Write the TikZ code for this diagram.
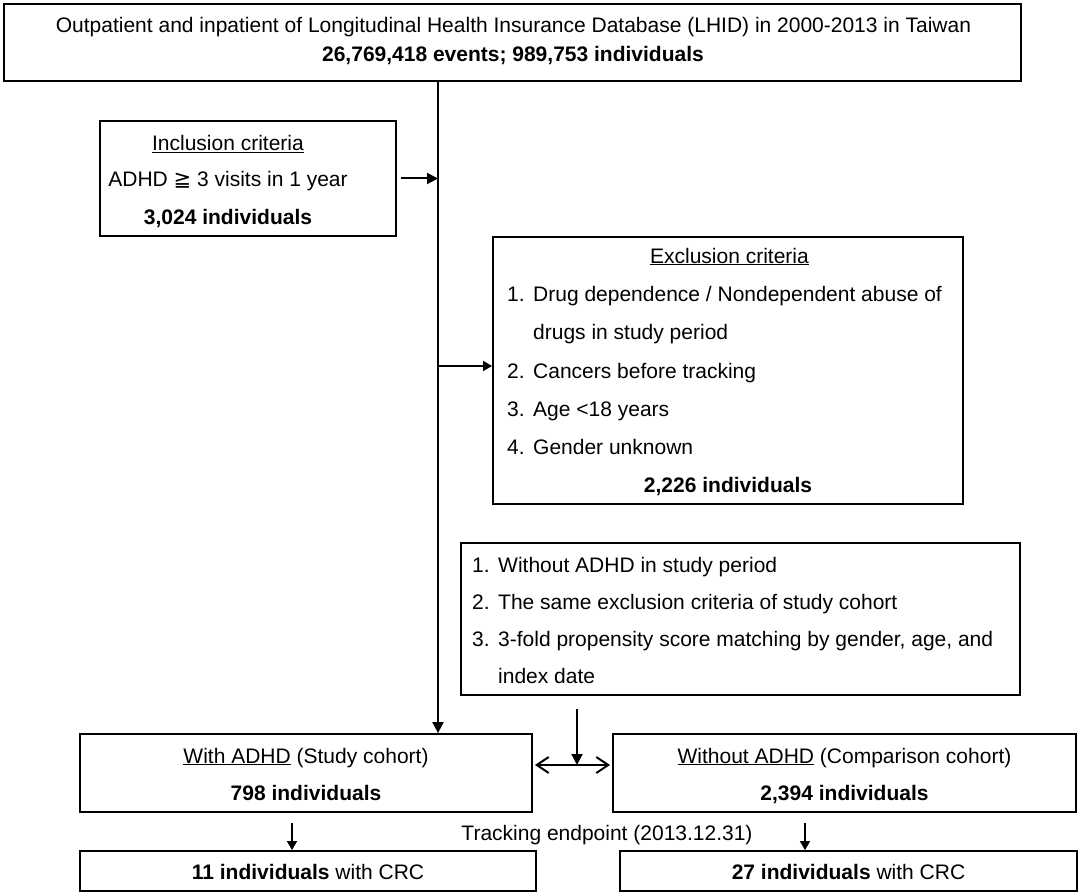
\documentclass[tikz,border=0pt]{standalone}
\usepackage{fontspec}
\setmainfont{Liberation Sans}
\newfontfamily\djv{DejaVu Sans}
\usetikzlibrary{arrows.meta}
\begin{document}
\begin{tikzpicture}[x=1pt,y=-1pt,
  box/.style={draw, line width=1.8pt, inner sep=0pt},
  txt/.style={inner sep=0pt, anchor=base, font=\fontsize{21}{25}\selectfont},
  txtl/.style={inner sep=0pt, anchor=base west, font=\fontsize{21}{25}\selectfont},
  bold/.style={font=\fontsize{21}{25}\selectfont\bfseries},
  arr/.style={line width=2pt, -{Triangle[length=11pt,width=11pt]}},
  arrthin/.style={line width=1.3pt, -{Triangle[length=9pt,width=10pt]}},
  dbl/.style={line width=2pt, {Straight Barb[length=12pt,width=16pt,line width=2pt]}-{Straight Barb[length=12pt,width=16pt,line width=2pt]}}
]
\useasboundingbox (0,0) rectangle (1084,896);
\fill[white] (0,0) rectangle (1084,896);

% boxes
\node[box, minimum width=1017, minimum height=77] (top) at (512.5,42.5) {};
\node[box, minimum width=296, minimum height=115] (incl) at (248,178.5) {};
\node[box, minimum width=470, minimum height=267] (excl) at (728,370.5) {};
\node[box, minimum width=559, minimum height=152] (match) at (740.5,619) {};
\node[box, minimum width=452, minimum height=78] (with) at (306,773) {};
\node[box, minimum width=463, minimum height=78] (without) at (844.5,773) {};
\node[box, minimum width=456, minimum height=40] (crc1) at (308,871) {};
\node[box, minimum width=457, minimum height=40] (crc2) at (848.5,871) {};

% texts
\node[txt] (ttitle) at (513.5,33) {Outpatient and inpatient of Longitudinal Health Insurance Database (LHID) in 2000-2013 in Taiwan};
\node[txt, bold] (tevents) at (513,62) {26,769,418 events; 989,753 individuals};

\node[txt] (tinc1) at (228,151) {\underline{Inclusion criteria}};
\node[txt] (tinc2) at (228,187) {ADHD {\djv ≧} 3 visits in 1 year};
\node[txt, bold] (tinc3) at (228,225) {3,024 individuals};

\node[txt] (texc0) at (729.5,263) {\underline{Exclusion criteria}};
\node[txtl] (texc1) at (507,301) {\makebox[26pt][l]{1.}Drug dependence / Nondependent abuse of};
\node[txtl] (texc1b) at (533,339) {drugs in study period};
\node[txtl] (texc2) at (507,378) {\makebox[26pt][l]{2.}Cancers before tracking};
\node[txtl] (texc3) at (507,416) {\makebox[26pt][l]{3.}Age <18 years};
\node[txtl] (texc4) at (507,454) {\makebox[26pt][l]{4.}Gender unknown};
\node[txt, bold] (texc5) at (728,492) {2,226 individuals};

\node[txtl] (tm1) at (472,572) {\makebox[26pt][l]{1.}Without ADHD in study period};
\node[txtl] (tm2) at (472,609) {\makebox[26pt][l]{2.}The same exclusion criteria of study cohort};
\node[txtl] (tm3) at (472,646) {\makebox[26pt][l]{3.}3-fold propensity score matching by gender, age, and};
\node[txtl] (tm3b) at (498,683) {index date};

\node[txt] (tw1) at (306,763) {\underline{With ADHD} (Study cohort)};
\node[txt, bold] (tw2) at (306,800) {798 individuals};
\node[txt] (two1) at (844.5,763) {\underline{Without ADHD} (Comparison cohort)};
\node[txt, bold] (two2) at (844.5,800) {2,394 individuals};

\node[txt] (ttrack) at (607,840) {Tracking endpoint (2013.12.31)};

\node[txt] (tc1) at (308,879) {\textbf{11 individuals} with CRC};
\node[txt] (tc2) at (848.5,879) {\textbf{27 individuals} with CRC};

% connectors
\coordinate (mx) at (438,0);
\coordinate (exy) at (0,366);
\coordinate (mtop) at (577,709);
\coordinate (mid) at (577,765);
\coordinate (s1) at (292,823);
\coordinate (s2) at (805,823);

\draw[arr] (top.south -| mx) -- (with.north -| mx);
\draw[arr] ([xshift=4pt]incl.east) -- (incl.east -| mx);
\draw[arrthin] (mx |- exy) -- (excl.west |- exy);
\draw[arr] (mtop) -- (mid);
\draw[dbl] ([xshift=2pt]with.east |- mid) -- ([xshift=-2pt]without.west |- mid);
\draw[arrthin] (s1) -- (crc1.north -| s1);
\draw[arrthin] (s2) -- (crc2.north -| s2);
\end{tikzpicture}
\end{document}
